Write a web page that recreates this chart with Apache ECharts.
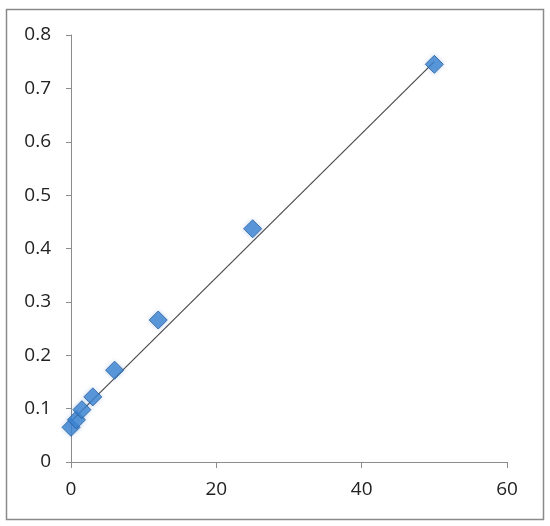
<!DOCTYPE html>
<html>
<head>
<meta charset="utf-8">
<script src="https://cdn.jsdelivr.net/npm/echarts@6/dist/echarts.min.js"></script>
<style>
  html, body { margin: 0; padding: 0; background: #fff; }
  #chart { width: 550px; height: 526px; }
</style>
</head>
<body>
<div id="chart"></div>
<script>
// measured points
var xValues = [0, 0.75, 1.5, 3, 6, 12, 25, 50];
var yValues = [0.065, 0.079, 0.098, 0.122, 0.172, 0.266, 0.437, 0.745];
// linear trendline end points
var trendX = [0, 50];
var trendY = [0.076, 0.75];

var chart = echarts.init(document.getElementById("chart"));

var points = [];
for (var i = 0; i < xValues.length; i++) {
  points.push([xValues[i], yValues[i]]);
}
var trend = [];
for (var j = 0; j < trendX.length; j++) {
  trend.push([trendX[j], trendY[j]]);
}

var axisText = { color: "#222", fontSize: 19, fontFamily: "Open Sans" };

chart.setOption({
  animation: false,
  backgroundColor: "#fff",
  grid: { left: 71, right: 43, top: 35, bottom: 64 },
  graphic: [{
    type: "rect",
    shape: { x: 6.5, y: 9.5, width: 537, height: 510 },
    style: { fill: "none", stroke: "#8a8a8a", lineWidth: 1.5 },
    z: 0
  }],
  xAxis: {
    type: "value",
    min: 0, max: 60, interval: 20,
    splitLine: { show: false },
    axisLine: { onZero: false, lineStyle: { color: "#8c8c8c", width: 1 } },
    axisTick: { show: true, length: 6, lineStyle: { color: "#8c8c8c" } },
    axisLabel: Object.assign({ margin: 18 }, axisText)
  },
  yAxis: {
    type: "value",
    min: 0, max: 0.8, interval: 0.1,
    splitLine: { show: false },
    axisLine: { show: true, onZero: false, lineStyle: { color: "#8c8c8c", width: 1 } },
    axisTick: { show: true, length: 5, lineStyle: { color: "#8c8c8c" } },
    axisLabel: Object.assign({ margin: 20 }, axisText)
  },
  series: [
    {
      type: "line",
      data: trend,
      symbol: "none",
      lineStyle: { color: "#4a4a4a", width: 1.2 },
      z: 2
    },
    {
      type: "scatter",
      data: points,
      symbol: "diamond",
      symbolSize: 18,
      itemStyle: {
        color: "#3b84d2",
        borderColor: "#245c9c",
        borderWidth: 1,
        shadowColor: "rgba(60,120,200,0.35)",
        shadowBlur: 4
      },
      z: 3
    }
  ]
});
</script>
</body>
</html>
